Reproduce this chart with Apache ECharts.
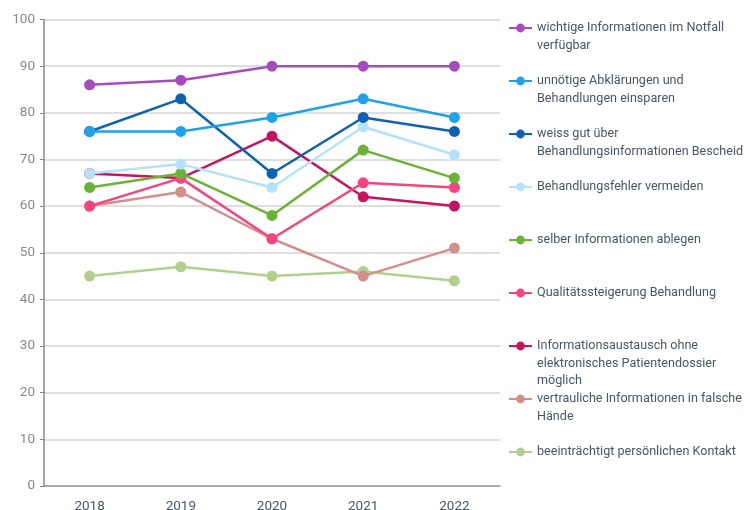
<!DOCTYPE html>
<html>
<head>
<meta charset="utf-8">
<script src="https://cdn.jsdelivr.net/npm/echarts@6/dist/echarts.min.js"></script>
<style>
  html, body { margin: 0; padding: 0; background: #fff; }
  #main { width: 750px; height: 510px; }
</style>
</head>
<body>
<div id="main"></div>
<script>
  var years = ['2018', '2019', '2020', '2021', '2022'];

  var notfall = [86, 87, 90, 90, 90];
  var abklaerungen = [76, 76, 79, 83, 79];
  var bescheid = [76, 83, 67, 79, 76];
  var fehler = [67, 69, 64, 77, 71];
  var ablegen = [64, 67, 58, 72, 66];
  var qualitaet = [60, 66, 53, 65, 64];
  var austausch = [67, 66, 75, 62, 60];
  var vertraulich = [60, 63, 53, 45, 51];
  var kontakt = [45, 47, 45, 46, 44];

  var seriesNames = [
    'wichtige Informationen im Notfall verfügbar',
    'unnötige Abklärungen und Behandlungen einsparen',
    'weiss gut über Behandlungsinformationen Bescheid',
    'Behandlungsfehler vermeiden',
    'selber Informationen ablegen',
    'Qualitätssteigerung Behandlung',
    'Informationsaustausch ohne elektronisches Patientendossier möglich',
    'vertrauliche Informationen in falsche Hände',
    'beeinträchtigt persönlichen Kontakt'
  ];
  var legendLabels = [
    'wichtige Informationen im Notfall\nverfügbar',
    'unnötige Abklärungen und\nBehandlungen einsparen',
    'weiss gut über\nBehandlungsinformationen Bescheid',
    'Behandlungsfehler vermeiden',
    'selber Informationen ablegen',
    'Qualitätssteigerung Behandlung',
    'Informationsaustausch ohne\nelektronisches Patientendossier\nmöglich',
    'vertrauliche Informationen in falsche\nHände',
    'beeinträchtigt persönlichen Kontakt'
  ];
  var seriesData = [notfall, abklaerungen, bescheid, fehler, ablegen, qualitaet, austausch, vertraulich, kontakt];
  var colors = ['#a84bbf', '#1ea3ea', '#0e62b1', '#b5e2fb', '#6ab334', '#f6457d', '#c6145e', '#d38f8c', '#b3cf8f'];

  var yTicks = [0, 10, 20, 30, 40, 50, 60, 70, 80, 90, 100];

  var myChart = echarts.init(document.getElementById('main'));

  var series = seriesData.map(function (d, i) {
    return {
      name: seriesNames[i],
      type: 'line',
      data: d,
      symbol: 'circle',
      symbolSize: 11,
      color: colors[i],
      lineStyle: { width: 2.5 },
      z: 10 - i
    };
  });
  series = series.reverse();

  // one legend block per entry so rows keep an even spacing;
  // blank lines in front push the first text line level with the icon
  var LH = 17.5;
  var legends = seriesNames.map(function (name, i) {
    var n = legendLabels[i].split('\n').length;
    var iconY = 28 + i * 53;
    var pad = '';
    for (var k = 1; k < n; k++) pad += ' \n';
    return {
      data: [name],
      left: 508,
      top: iconY - (2 * n - 1) * LH / 2,
      padding: 0,
      itemWidth: 23,
      itemHeight: 11,
      formatter: function () { return pad + legendLabels[i]; },
      textStyle: {
        fontFamily: 'Roboto',
        fontSize: 12.6,
        lineHeight: LH,
        color: '#4a5664'
      }
    };
  });

  var option = {
    backgroundColor: '#fff',
    animation: false,
    grid: { left: 44, right: 250, top: 19.5, bottom: 24, outerBoundsMode: 'none' },
    legend: legends,
    xAxis: {
      type: 'category',
      data: years,
      boundaryGap: true,
      axisLine: { lineStyle: { color: '#999', width: 1.5 } },
      axisTick: { show: false },
      axisLabel: {
        color: '#4a5664',
        fontFamily: 'Roboto',
        fontSize: 13.5,
        margin: 14
      }
    },
    yAxis: {
      type: 'value',
      min: yTicks[0],
      max: yTicks[yTicks.length - 1],
      interval: 10,
      axisLine: { show: true, lineStyle: { color: '#888', width: 1.5 } },
      axisTick: { show: true, length: 4, lineStyle: { color: '#888' } },
      axisLabel: {
        color: '#888',
        fontFamily: 'Roboto',
        fontSize: 13.5,
        margin: 9
      },
      splitLine: { lineStyle: { color: '#d4d4d4', width: 1.5 } }
    },
    series: series
  };

  myChart.setOption(option);
</script>
</body>
</html>
